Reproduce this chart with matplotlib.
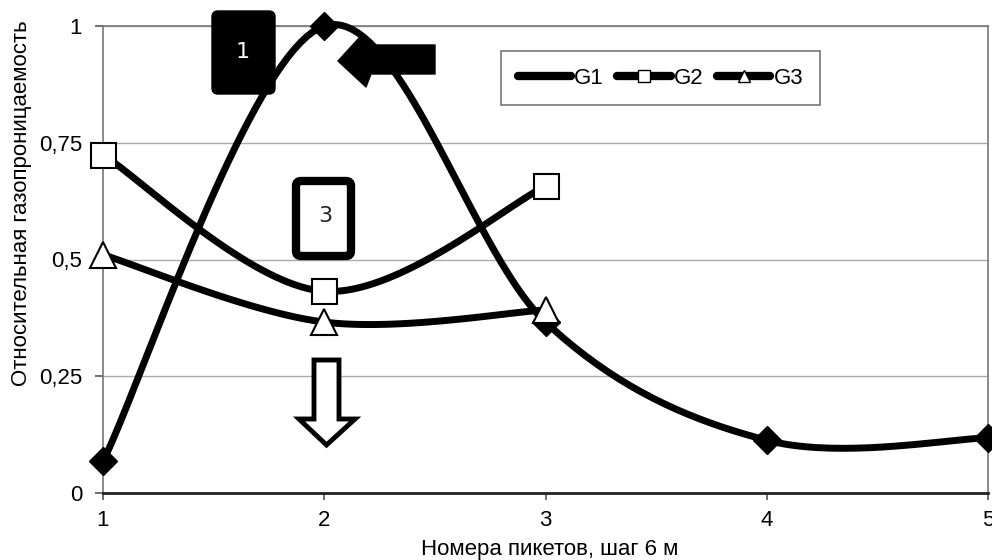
import numpy as np
import matplotlib
matplotlib.use("Agg")
import matplotlib.pyplot as plt
from matplotlib.lines import Line2D
from matplotlib.patches import FancyBboxPatch, Polygon
from matplotlib.transforms import IdentityTransform

plt.rcParams['font.family'] = ['Liberation Sans', 'DejaVu Sans']

# data
x_g1 = [1, 2, 3, 4, 5]
g1 = [0.068, 1.0, 0.366, 0.113, 0.118]
x_g23 = [1, 2, 3]
g2 = [0.724, 0.432, 0.657]
g3 = [0.51, 0.366, 0.392]
xticks = [1, 2, 3, 4, 5]
yticks = [0, 0.25, 0.5, 0.75, 1]
ytick_labels = ["0", "0,25", "0,5", "0,75", "1"]


def smooth(xs, ys, n=40):
    # excel-like smoothed line (cubic bezier with catmull-rom tangents)
    p = np.column_stack([xs, ys]).astype(float)
    ext = np.vstack([p[0], p, p[-1]])
    out = []
    t = np.linspace(0, 1, n)[:, None]
    for i in range(len(p) - 1):
        p0, p1, p2, p3 = ext[i], ext[i + 1], ext[i + 2], ext[i + 3]
        c1 = p1 + (p2 - p0) / 6.0
        c2 = p2 - (p3 - p1) / 6.0
        seg = ((1 - t) ** 3) * p1 + 3 * ((1 - t) ** 2) * t * c1 + 3 * (1 - t) * t ** 2 * c2 + t ** 3 * p2
        out.append(seg)
    out = np.vstack(out)
    return out[:, 0], out[:, 1]


fig = plt.figure(figsize=(9.92, 5.6), dpi=100)
ax = fig.add_axes([103 / 992, 1 - 493 / 560, 885 / 992, 467 / 560])

lw = 5
for xs, ys in [(x_g1, g1), (x_g23, g2), (x_g23, g3)]:
    sx, sy = smooth(xs, ys)
    ax.plot(sx, sy, color="black", lw=lw, solid_capstyle="round", clip_on=False, zorder=3)

ax.plot(x_g1, g1, ls="none", marker="D", ms=14, color="black", clip_on=False, zorder=4)
ax.plot(x_g23, g2, ls="none", marker="s", ms=18, mfc="white", mec="black", mew=1.5, clip_on=False, zorder=5)
ax.plot(x_g23, g3, ls="none", marker="^", ms=19, mfc="white", mec="black", mew=1.5, clip_on=False, zorder=5)

ax.set_xlim(1, 5)
ax.set_ylim(0, 1)
ax.set_xticks(xticks)
ax.set_yticks(yticks)
ax.set_yticklabels(ytick_labels)
ax.tick_params(axis="both", labelsize=16, width=1.2, color="#555555")
ax.tick_params(axis="x", length=5, pad=7)
ax.tick_params(axis="y", length=6, pad=9)
ax.grid(axis="y", color="#aaaaaa", lw=1)
ax.set_axisbelow(True)
for s in ["top", "right", "left"]:
    ax.spines[s].set_color("#777777")
    ax.spines[s].set_linewidth(1.2)
ax.spines["bottom"].set_color("#222222")
ax.spines["bottom"].set_linewidth(2)

ax.set_xlabel("Номера пикетов, шаг 6 м", fontsize=16)
ax.xaxis.set_label_coords(0.505, -0.098)
ax.set_ylabel("Относительная газопроницаемость", fontsize=16)
ax.yaxis.set_label_coords(-0.080, 0.62)

handles = [
    Line2D([], [], color="black", lw=6, marker="D", ms=3, solid_capstyle="round"),
    Line2D([], [], color="black", lw=6, marker="s", ms=9, mfc="white", mec="black", mew=1, solid_capstyle="round"),
    Line2D([], [], color="black", lw=6, marker="^", ms=9, mfc="white", mec="black", mew=1, solid_capstyle="round"),
]
leg = ax.legend(handles, ["G1", "G2", "G3"], loc="upper left", bbox_to_anchor=(398 / 885, 1 - 25 / 467),
                ncol=3, frameon=True, fancybox=False, fontsize=16, handlelength=2.4, handletextpad=0.15,
                columnspacing=0.6, borderpad=0.75, borderaxespad=0, edgecolor="#555555")
leg.get_frame().set_linewidth(1.2)

# annotations drawn in image pixel coordinates
ident = IdentityTransform()
H = 560


def py(y):
    return H - y


box1 = FancyBboxPatch((215, py(91)), 57, 77, boxstyle="round,pad=3,rounding_size=6",
                      facecolor="black", edgecolor="black", transform=ident, zorder=10)
fig.add_artist(box1)
fig.text(243, py(52), "1", color="white", fontsize=16, ha="center", va="center",
         transform=ident, zorder=11, family=["DejaVu Sans"])

arrow_pts = [(338, 61), (359, 38), (370, 45), (435, 45), (435, 74), (371, 74), (366, 87)]
fig.add_artist(Polygon([(x, py(y)) for x, y in arrow_pts], closed=True, facecolor="black",
                       edgecolor="black", lw=1, joinstyle="round", transform=ident, zorder=10))

box3 = FancyBboxPatch((296, py(256)), 55, 75, boxstyle="round,pad=0,rounding_size=5",
                      facecolor="white", edgecolor="black", lw=6, transform=ident, zorder=10)
fig.add_artist(box3)
fig.text(325, py(216), "3", color="#222222", fontsize=16, ha="center", va="center",
         transform=ident, zorder=11, family=["DejaVu Sans"])

down_pts = [(314, 360), (339, 360), (339, 419), (355, 419), (326.5, 445), (299, 419), (314, 419)]
fig.add_artist(Polygon([(x, py(y)) for x, y in down_pts], closed=True, facecolor="white",
                       edgecolor="black", lw=3.5, joinstyle="miter", transform=ident, zorder=10))

fig.savefig("out.png", dpi=100)
